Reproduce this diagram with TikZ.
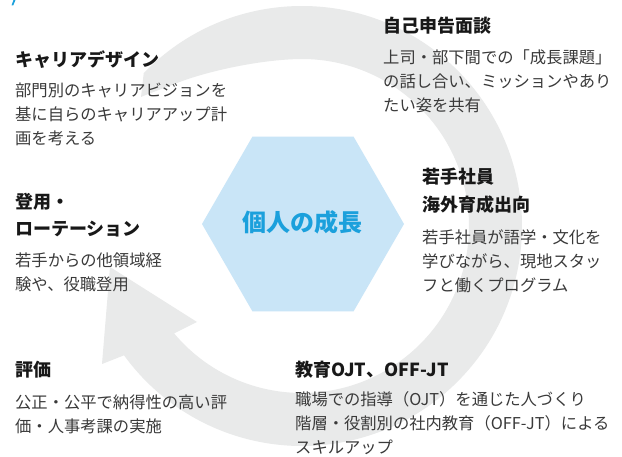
\documentclass[tikz,border=0pt]{standalone}
\usepackage{fontspec}
\setmainfont{Noto Sans CJK JP}
\usetikzlibrary{calc}
\definecolor{ringgray}{RGB}{233,234,234}
\definecolor{hexblue}{RGB}{201,229,247}
\definecolor{centerblue}{RGB}{27,160,220}
\definecolor{titlecol}{RGB}{24,24,24}
\definecolor{bodycol}{RGB}{58,58,58}
\begin{document}
\begin{tikzpicture}[x=1pt,y=-1pt,
  ttl/.style={anchor=base west, inner sep=0pt, align=left, text=titlecol,
    font=\fontsize{18}{27.5}\selectfont\bfseries},
  bodytxt/.style={anchor=base west, inner sep=0pt, align=left, text=bodycol,
    font=\fontsize{16.3}{24}\selectfont},
  centertxt/.style={inner sep=0pt, text=centerblue,
    font=\fontsize{24}{28}\selectfont\bfseries}]
\useasboundingbox (0,0) rectangle (622,457);
\fill[white] (0,0) rectangle (622,457);
% small blue mark at the top-left corner
\fill[centerblue] (11.5,5.5) -- (13.5,0) -- (15.5,0) -- (13.2,5.5) -- cycle;
% circular arrow with a tapered tail
\coordinate (rc) at (302,226);
\coordinate (tip) at (110,267);
\coordinate (barbA) at (102,364);
\coordinate (barbB) at (197,322);
\coordinate (tail) at (141,97);
\fill[ringgray] ($(rc)+(224:220)$) arc[start angle=224, end angle=504, radius=220]
  -- (barbA) -- (tip) -- (barbB) -- ($(rc)+(500:167)$)
  arc[start angle=500, end angle=268, radius=167]
  .. controls (255,60.5) and (205,72) .. (177,83)
  .. controls (162,89) and (150,93) .. (tail) -- cycle;
% hexagon
\coordinate (hc) at (303,224);
\fill[hexblue] ($(hc)+(0:101)$) -- ($(hc)+(60:101)$) -- ($(hc)+(120:101)$)
  -- ($(hc)+(180:101)$) -- ($(hc)+(240:101)$) -- ($(hc)+(300:101)$) -- cycle;
\node[centertxt] (center) at (302.5,222) {個人の成長};
% texts (anchor = baseline of the last line)
\node[ttl] (t1) at (15,67) {キャリアデザイン};
\node[bodytxt] (b1) at (15,145) {部門別のキャリアビジョンを\\基に自らのキャリアアップ計\\画を考える};
\node[ttl] (t2) at (383,33) {自己申告面談};
\node[bodytxt] (b2) at (383,112) {上司・部下間での「成長課題」\\の話し合い、ミッションやあり\\たい姿を共有};
\node[ttl] (t3) at (422,211.5) {若手社員\\海外育成出向};
\node[bodytxt] (b3) at (422,292) {若手社員が語学・文化を\\学びながら、現地スタッ\\フと働くプログラム};
\node[ttl] (t4) at (15,236) {登用・\\ローテーション};
\node[bodytxt] (b4) at (15,290.5) {若手からの他領域経\\験や、役職登用};
\node[ttl] (t5) at (15,377) {評価};
\node[bodytxt] (b5) at (15,432) {公正・公平で納得性の高い評\\価・人事考課の実施};
\node[ttl] (t6) at (295,377) {教育OJT、OFF-JT};
\node[bodytxt] (b6) at (295,453.5) {職場での指導（OJT）を通じた人づくり\\階層・役割別の社内教育（OFF-JT）による\\スキルアップ};
\end{tikzpicture}
\end{document}
